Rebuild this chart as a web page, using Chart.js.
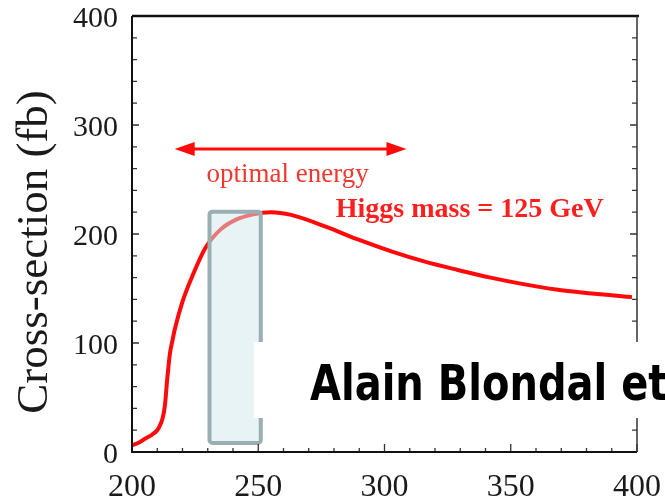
<!DOCTYPE html>
<html>
<head>
<meta charset="utf-8">
<script src="https://cdn.jsdelivr.net/npm/chart.js@4/dist/chart.umd.min.js"></script>
<style>
  html, body { margin: 0; padding: 0; background: #fff; }
  #wrap { width: 665px; height: 497px; position: relative; }
</style>
</head>
<body>
<div id="wrap"><canvas id="chart"></canvas></div>
<script>
// centre-of-mass energy (GeV) and cross-section (fb)
const energy = [200, 203, 205, 208, 210, 211, 212, 213, 214, 215, 216, 217, 220, 224, 229, 235, 241, 248, 255, 263, 277, 290, 303, 316, 329, 342, 355, 368, 382, 396, 398]
const crossSection = [6, 9, 12, 16, 20, 24, 30, 42, 68, 90, 102, 113, 138, 162, 187, 204, 213, 218, 220, 217.5, 206.5, 194.5, 183.8, 174.6, 167, 160, 154, 149, 145.5, 142.5, 142]

const xTicks = [200, 250, 300, 350, 400]
const yTicks = [0, 100, 200, 300, 400]

// highlighted "optimal energy" window and its arrow (data units)
const windowX = [230.7, 251]
const windowY = [8.3, 220.5]
const arrowX = [216.9, 308.7]
const arrowY = 278

const yTitle = 'Cross-section (fb)'
const noteOptimal = 'optimal energy'
const noteHiggs = 'Higgs mass = 125 GeV'
const noteCredit = 'Alain Blondal et'

const RED = '#ff0a0a'
const SERIF = '"Liberation Serif", "Times New Roman", serif'

// keep the plot box where the original sits: no extra room for edge labels
const noEdgePadding = (scale) => {
  scale.paddingLeft = 0
  scale.paddingRight = 0
  scale.paddingTop = 0
  scale.paddingBottom = 0
}

/**
 * Frame, inward ticks, notes and the cover label drawn on top of the chart.
 */
const decorations = {
  id: 'decorations',
  afterDatasetsDraw (chart) {
    const { ctx, chartArea: a, scales: { x, y } } = chart
    ctx.save()

    // shaded window over the curve
    const bx0 = x.getPixelForValue(windowX[0])
    const bx1 = x.getPixelForValue(windowX[1])
    const by0 = y.getPixelForValue(windowY[1])
    const by1 = y.getPixelForValue(windowY[0])
    ctx.beginPath()
    ctx.roundRect(bx0, by0, bx1 - bx0, by1 - by0, 3)
    ctx.fillStyle = 'rgba(210, 232, 236, 0.5)'
    ctx.fill()
    ctx.lineWidth = 4
    ctx.strokeStyle = '#9aafb3'
    ctx.stroke()

    // minor / major ticks, pointing inwards
    ctx.strokeStyle = '#333'
    ctx.lineWidth = 1.3
    for (let v = 200; v <= 400; v += 10) {
      const px = x.getPixelForValue(v)
      const len = v % 50 === 0 ? 8 : 4
      ctx.beginPath()
      ctx.moveTo(px, a.bottom)
      ctx.lineTo(px, a.bottom - len)
      ctx.stroke()
    }
    for (let v = 0; v <= 400; v += 20) {
      const py = y.getPixelForValue(v)
      const len = v % 100 === 0 ? 7 : 5
      ctx.beginPath()
      ctx.moveTo(a.left, py)
      ctx.lineTo(a.left + len, py)
      ctx.moveTo(a.right, py)
      ctx.lineTo(a.right - len, py)
      ctx.stroke()
    }

    // frame
    ctx.strokeStyle = '#111'
    ctx.lineWidth = 2.5
    ctx.beginPath()
    ctx.moveTo(a.left, a.top)
    ctx.lineTo(a.right + 2, a.top)
    ctx.stroke()
    ctx.lineWidth = 2
    ctx.beginPath()
    ctx.moveTo(a.left, a.top)
    ctx.lineTo(a.left, a.bottom)
    ctx.lineTo(a.right, a.bottom)
    ctx.stroke()
    ctx.strokeStyle = '#333'
    ctx.lineWidth = 1.5
    ctx.beginPath()
    ctx.moveTo(a.right, a.top)
    ctx.lineTo(a.right, a.bottom)
    ctx.stroke()

    // double arrow + notes
    const ax0 = x.getPixelForValue(arrowX[0])
    const ax1 = x.getPixelForValue(arrowX[1])
    const ay = y.getPixelForValue(arrowY)
    ctx.strokeStyle = RED
    ctx.fillStyle = RED
    ctx.lineWidth = 3
    ctx.beginPath()
    ctx.moveTo(ax0 + 14, ay)
    ctx.lineTo(ax1 - 14, ay)
    ctx.stroke()
    ctx.beginPath()
    ctx.moveTo(ax0, ay)
    ctx.lineTo(ax0 + 20, ay - 7)
    ctx.lineTo(ax0 + 20, ay + 7)
    ctx.closePath()
    ctx.moveTo(ax1, ay)
    ctx.lineTo(ax1 - 20, ay - 7)
    ctx.lineTo(ax1 - 20, ay + 7)
    ctx.closePath()
    ctx.fill()

    ctx.textAlign = 'left'
    ctx.textBaseline = 'alphabetic'
    ctx.fillStyle = '#f0382e'
    ctx.font = '27px ' + SERIF
    ctx.fillText(noteOptimal, x.getPixelForValue(229.5), y.getPixelForValue(248))
    ctx.fillStyle = '#ff1e1e'
    ctx.font = 'bold 28px ' + SERIF
    ctx.fillText(noteHiggs, x.getPixelForValue(280.7), y.getPixelForValue(216))

    ctx.restore()
  },
  afterDraw (chart) {
    const { ctx } = chart
    ctx.save()

    // y axis title
    ctx.fillStyle = '#1a1a1a'
    ctx.font = '45px ' + SERIF
    ctx.textAlign = 'center'
    ctx.textBaseline = 'alphabetic'
    ctx.translate(47, 252)
    ctx.rotate(-Math.PI / 2)
    ctx.fillText(yTitle, 0, 0)
    ctx.restore()

    // white label pasted over the plot
    ctx.save()
    ctx.fillStyle = '#fff'
    ctx.fillRect(254, 342, 411, 76)
    ctx.fillStyle = '#000'
    ctx.font = 'bold 40px "DejaVu Sans", sans-serif'
    ctx.textAlign = 'left'
    ctx.textBaseline = 'alphabetic'
    ctx.translate(310, 400)
    ctx.scale(1, 1.26)
    ctx.fillText(noteCredit, 0, 0)
    ctx.restore()
  }
}

const points = energy.map((e, i) => ({ x: e, y: crossSection[i] }))

new Chart(document.getElementById('chart'), {
  type: 'line',
  data: {
    datasets: [{
      data: points,
      borderColor: RED,
      borderWidth: 4,
      pointRadius: 0,
      cubicInterpolationMode: 'monotone',
      fill: false
    }]
  },
  options: {
    responsive: true,
    maintainAspectRatio: false,
    animation: false,
    layout: { padding: { top: 16, right: 28, left: 0, bottom: 0 } },
    plugins: { legend: { display: false }, tooltip: { enabled: false } },
    scales: {
      x: {
        type: 'linear',
        min: 200,
        max: 400,
        afterBuildTicks: (scale) => { scale.ticks = xTicks.map(v => ({ value: v })) },
        afterFit: (scale) => { scale.height = 45; noEdgePadding(scale) },
        grid: { display: false, drawTicks: false },
        border: { display: false },
        ticks: {
          color: '#1a1a1a',
          padding: 16,
          maxRotation: 0,
          font: { family: SERIF, size: 32 }
        }
      },
      y: {
        min: 0,
        max: 400,
        afterBuildTicks: (scale) => { scale.ticks = yTicks.map(v => ({ value: v })) },
        afterFit: (scale) => { scale.width = 132; noEdgePadding(scale) },
        grid: { display: false, drawTicks: false },
        border: { display: false },
        ticks: {
          color: '#1a1a1a',
          padding: 14,
          labelOffset: 3,
          font: { family: SERIF, size: 30 }
        }
      }
    }
  },
  plugins: [decorations]
})
</script>
</body>
</html>
